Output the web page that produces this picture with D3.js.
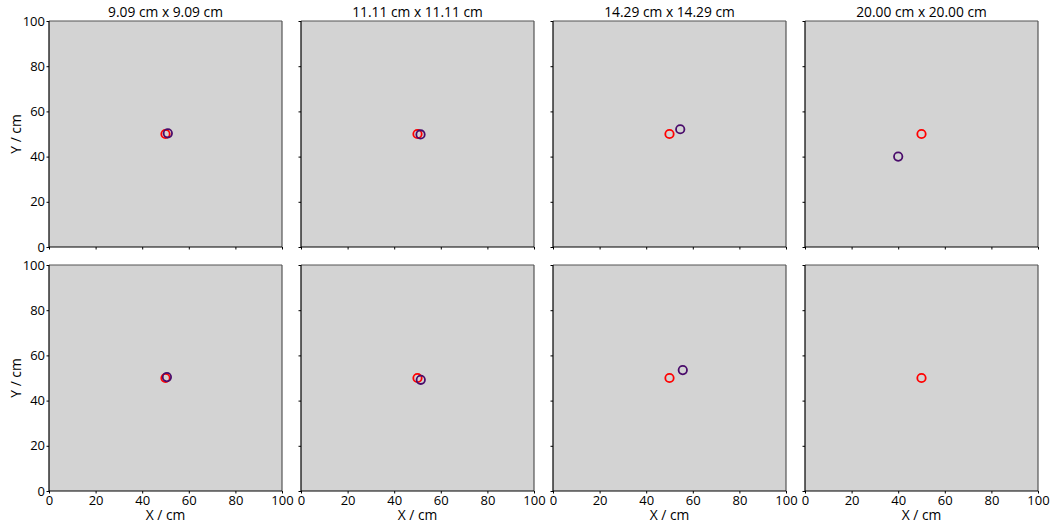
<!DOCTYPE html>
<html>
<head>
<meta charset="utf-8">
<script src="https://cdn.jsdelivr.net/npm/d3@7"></script>
<style>
  body { margin: 0; background: #fff; }
  svg { font-family: "Open Sans", sans-serif; }
</style>
</head>
<body>
<svg id="chart" width="1055" height="526"></svg>
<script>
// grid sizes shown as column titles
const titles = ['9.09 cm x 9.09 cm', '11.11 cm x 11.11 cm', '14.29 cm x 14.29 cm', '20.00 cm x 20.00 cm'];
const ticks = [0, 20, 40, 60, 80, 100];

// reference source position (red) - same in every panel
const truePos = [50, 50];

// estimated positions (purple), top row then bottom row; null = none
const estTop = [[51.0, 50.3], [51.3, 49.8], [54.6, 52.1], [40.0, 40.0]];
const estBottom = [[50.6, 50.4], [51.4, 49.2], [55.7, 53.5], null];

const svg = d3.select('#chart');
const colX = [49, 301, 553, 805];
const rowY = [21, 265];
const pw = 233, ph = 226;

const x = d3.scaleLinear().domain([0, 100]).range([0, pw]);
const y = d3.scaleLinear().domain([0, 100]).range([ph, 0]);

[estTop, estBottom].forEach((row, r) => {
  row.forEach((est, c) => {
    const g = svg.append('g').attr('transform', `translate(${colX[c]},${rowY[r]})`);

    g.append('rect')
      .attr('width', pw).attr('height', ph)
      .attr('fill', '#d3d3d3');

    // axes
    const xa = g.append('g').attr('transform', `translate(0,${ph})`)
      .call(d3.axisBottom(x).tickValues(ticks).tickSize(2.5).tickFormat(r === 1 ? d3.format('d') : ''));
    const ya = g.append('g')
      .call(d3.axisLeft(y).tickValues(ticks).tickSize(2.5).tickFormat(c === 0 ? d3.format('d') : ''));
    [xa, ya].forEach(a => {
      a.select('.domain').remove();
      a.selectAll('line').attr('stroke', '#000');
      a.selectAll('text').attr('font-size', 13).attr('fill', '#000')
        .attr('font-family', '"Open Sans", sans-serif');
    });
    ya.selectAll('text').attr('x', -4);
    xa.selectAll('text').attr('y', 5);

    // spines
    g.append('line').attr('x1', 0).attr('x2', pw).attr('y1', 0).attr('y2', 0)
      .attr('stroke', '#555').attr('stroke-width', 1.2);
    g.append('line').attr('x1', pw).attr('x2', pw).attr('y1', 0).attr('y2', ph)
      .attr('stroke', '#555').attr('stroke-width', 1.2);
    g.append('line').attr('x1', 0).attr('x2', 0).attr('y1', 0).attr('y2', ph)
      .attr('stroke', '#000').attr('stroke-width', 1.2);
    g.append('line').attr('x1', 0).attr('x2', pw).attr('y1', ph).attr('y2', ph)
      .attr('stroke', '#000').attr('stroke-width', 1.2);

    g.append('circle')
      .attr('cx', x(truePos[0])).attr('cy', y(truePos[1])).attr('r', 4.2)
      .attr('fill', 'none').attr('stroke', '#ff0000').attr('stroke-width', 1.8);
    if (est) {
      g.append('circle')
        .attr('cx', x(est[0])).attr('cy', y(est[1])).attr('r', 4.2)
        .attr('fill', 'none').attr('stroke', '#4a0c6b').attr('stroke-width', 1.8);
    }

    if (r === 0) {
      g.append('text').attr('x', pw / 2).attr('y', -4)
        .attr('text-anchor', 'middle').attr('font-size', 13.8)
        .text(titles[c]);
    }
    if (r === 1) {
      g.append('text').attr('x', pw / 2).attr('y', ph + 29)
        .attr('text-anchor', 'middle').attr('font-size', 13.8)
        .text('X / cm');
    }
    if (c === 0) {
      g.append('text')
        .attr('transform', `translate(${-28},${ph / 2}) rotate(-90)`)
        .attr('text-anchor', 'middle').attr('font-size', 13.8)
        .text('Y / cm');
    }
  });
});
</script>
</body>
</html>
